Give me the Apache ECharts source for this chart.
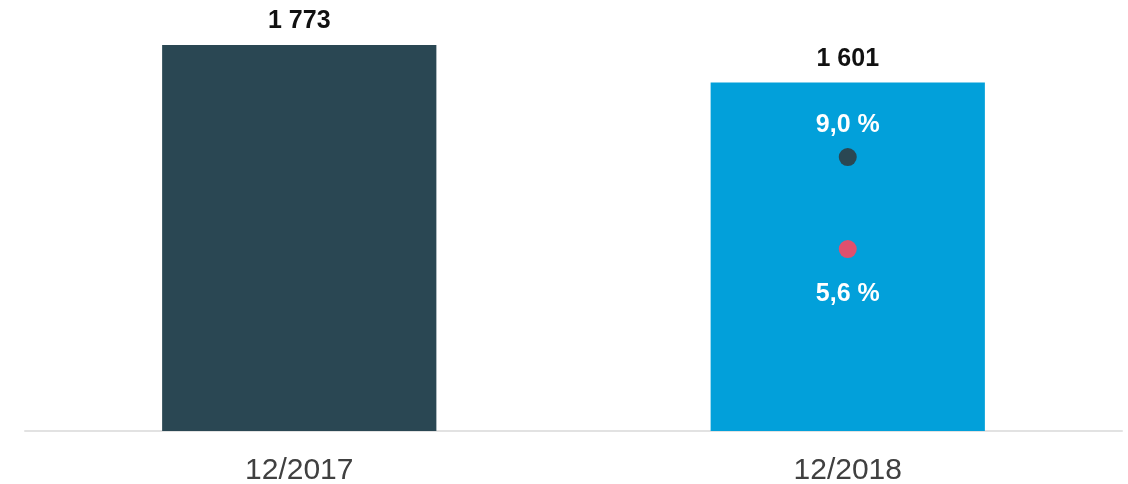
<!DOCTYPE html>
<html>
<head>
<meta charset="utf-8">
<script src="https://cdn.jsdelivr.net/npm/echarts@6/dist/echarts.min.js"></script>
<style>html,body{margin:0;padding:0;background:#fff}#c{width:1128px;height:484px}</style>
</head>
<body>
<div id="c"></div>
<script>
const categories = ['12/2017', '12/2018'];
const barValues = [1773, 1601];
const barColors = ['#2A4753', '#02A0DA'];
const rateA = [null, 9.0];   // dark dot
const rateB = [null, 5.6];   // pink dot

const fmtInt = v => String(v).replace(/\B(?=(\d{3})+(?!\d))/g, ' ');
const fmtPct = v => v.toFixed(1).replace('.', ',') + ' %';
const font = 'Liberation Sans, Arial, sans-serif';

const chart = echarts.init(document.getElementById('c'), null, {renderer: 'canvas'});
chart.setOption({
  animation: false,
  grid: {left: 25, right: 6, top: 45, bottom: 53, containLabel: false, outerBoundsMode: 'none'},
  xAxis: {
    type: 'category',
    data: categories,
    axisTick: {show: false},
    axisLine: {lineStyle: {color: '#E2E2E2', width: 2}},
    axisLabel: {color: '#404040', fontSize: 30, fontFamily: font, margin: 25}
  },
  yAxis: [
    {type: 'value', min: 0, max: 1773, show: false, splitLine: {show: false}},
    {type: 'value', min: -1.125, max: 13.14, show: false, splitLine: {show: false}}
  ],
  series: [
    {
      type: 'bar',
      barWidth: '50%',
      data: barValues.map((v, i) => ({value: v, itemStyle: {color: barColors[i]}})),
      label: {
        show: true, position: 'top', distance: 11,
        color: '#111', fontWeight: 'bold', fontSize: 25, fontFamily: font,
        formatter: p => fmtInt(p.value)
      }
    },
    {
      type: 'scatter', yAxisIndex: 1, symbolSize: 18,
      itemStyle: {color: '#2A4753', opacity: 1},
      data: rateA,
      label: {
        show: true, position: 'top', distance: 10,
        color: '#ffffff', opacity: 1, fontWeight: 'bold', fontSize: 25, fontFamily: font,
        formatter: p => fmtPct(Array.isArray(p.value) ? p.value[1] : p.value)
      }
    },
    {
      type: 'scatter', yAxisIndex: 1, symbolSize: 18,
      itemStyle: {color: '#E0506E', opacity: 1},
      data: rateB,
      label: {
        show: true, position: 'bottom', distance: 24,
        color: '#ffffff', opacity: 1, fontWeight: 'bold', fontSize: 25, fontFamily: font,
        formatter: p => fmtPct(Array.isArray(p.value) ? p.value[1] : p.value)
      }
    }
  ]
});
</script>
</body>
</html>
